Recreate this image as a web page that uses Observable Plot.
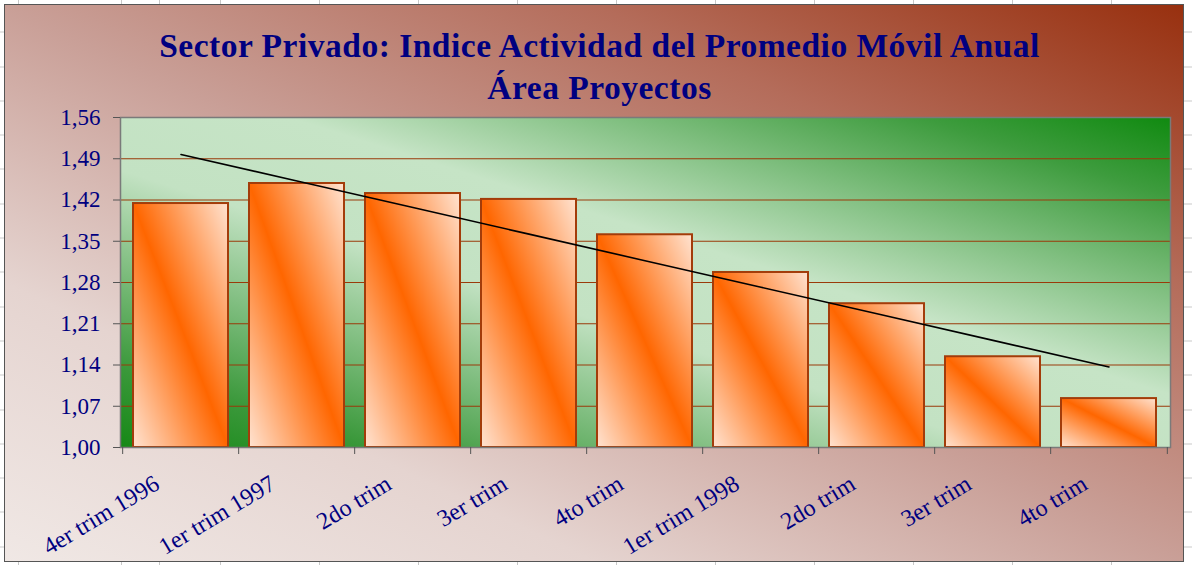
<!DOCTYPE html>
<html><head><meta charset="utf-8">
<script src="https://cdn.jsdelivr.net/npm/d3@7"></script>
<script src="https://cdn.jsdelivr.net/npm/@observablehq/plot@0.6"></script>
<style>
html,body{margin:0;padding:0;}
body{width:1192px;height:565px;overflow:hidden;position:relative;background-color:#fff;
  background-image:
    linear-gradient(to right, transparent 159px, #c8c8c8 159px, #c8c8c8 160px, transparent 160px),
    repeating-linear-gradient(to right, transparent 0, transparent 98px, #c8c8c8 98px, #c8c8c8 99px),
    repeating-linear-gradient(to bottom, transparent 0, transparent 33.3px, #c8c8c8 33.3px, #c8c8c8 34.3px);
  background-position: 0 0, 23px 0, 0 -1.5px;}
#chart{position:absolute;left:4px;top:4px;width:1178px;height:556px;border:1px solid #555;
  background:linear-gradient(to top right,#f0e8e5 0%,#e5d4d0 25%,#c99f97 50%,#b46c5a 75%,#98300f 100%);
  font-family:"Liberation Serif","Times New Roman",serif;}
#title{height:89px;box-sizing:border-box;padding-top:20px;padding-left:11px;text-align:center;color:#000080;
  font-weight:bold;font-size:33.5px;line-height:42px;letter-spacing:0.5px;}
#chart svg{display:block;}
</style></head>
<body>
<div id="chart">
  <div id="title">Sector Privado: Indice Actividad del Promedio Móvil Anual<br>Área Proyectos</div>
</div>
<script>
const categories = ["4er trim 1996","1er trim 1997","2do trim","3er trim","4to trim","1er trim 1998","2do trim","3er trim","4to trim"];
const values = [1.414,1.448,1.431,1.421,1.361,1.297,1.244,1.154,1.083];
const yTicks = [1.00,1.07,1.14,1.21,1.28,1.35,1.42,1.49,1.56];

const data = categories.map((c, i) => ({i, label: c, v: values[i]}));

// least-squares trend line computed from the data
const n = values.length;
const mx = d3.mean(data, d => d.i), my = d3.mean(values);
const slope = d3.sum(data, d => (d.i - mx) * (d.v - my)) / d3.sum(data, d => (d.i - mx) ** 2);
const trend = data.map(d => ({i: d.i, t: my + slope * (d.i - mx)}));

const W = 1178, H = 467, mL = 115, mR = 13, mT = 23, mB = 114;
const step = (W - mL - mR) / n;

const plot = Plot.plot({
  width: W, height: H,
  marginLeft: mL, marginRight: mR, marginTop: mT, marginBottom: mB,
  style: {background: "transparent", fontFamily: "'Liberation Serif','Times New Roman',serif", fontSize: "22px", overflow: "visible"},
  x: {domain: d3.range(n), paddingInner: 0.18, paddingOuter: 0.09, label: null},
  y: {domain: [yTicks[0], yTicks[yTicks.length - 1]], label: null},
  marks: [
    Plot.frame({fill: "url(#plotBg)", stroke: "none"}),
    Plot.ruleY(yTicks.slice(1), {stroke: "#9a3a0a", strokeWidth: 1.2}),
    Plot.barY(data, {x: "i", y1: () => yTicks[0], y2: "v", fill: "url(#barGrad)", stroke: "#a33c0a", strokeWidth: 2}),
    Plot.line(trend, {x: "i", y: "t", stroke: "#000", strokeWidth: 1.6}),
    Plot.frame({stroke: "#7a7a7a", strokeWidth: 1.5}),
    Plot.axisY(yTicks, {tickSize: 7, tickPadding: 13, tickFormat: d => d.toFixed(2).replace(".", ","), stroke: "#555", fill: "#000080", fontSize: 23, letterSpacing: 1, label: null}),
    Plot.ruleX(d3.range(n), {x: d => d, y1: () => yTicks[0], y2: () => yTicks[0], insetBottom: -7, dx: -step / 2, stroke: "#555"}),
    Plot.ruleX([n - 1], {x: d => d, y1: () => yTicks[0], y2: () => yTicks[0], insetBottom: -7, dx: step / 2, stroke: "#555"}),
    Plot.axisX(d3.range(n), {tickSize: 0, tickRotate: -31, tickPadding: 34, dx: -24, tickFormat: i => categories[i], fill: "#000080", fontSize: 24, label: null})
  ]
});

const defs = d3.select(plot).insert("defs", ":first-child");
const bg = defs.append("linearGradient").attr("id", "plotBg").attr("x1", 0).attr("y1", 1).attr("x2", 1).attr("y2", 0);
[[0, "#168816"], [0.12, "#3a983a"], [0.42, "#c3e2c3"], [0.58, "#c6e4c6"], [0.88, "#3e9c3e"], [1, "#108a10"]]
  .forEach(([o, c]) => bg.append("stop").attr("offset", o).attr("stop-color", c));
const bar = defs.append("linearGradient").attr("id", "barGrad").attr("x1", 0).attr("y1", 1).attr("x2", 1).attr("y2", 0);
[[0, "#ffe3d1"], [0.5, "#ff6600"], [1, "#ffe3d1"]]
  .forEach(([o, c]) => bar.append("stop").attr("offset", o).attr("stop-color", c));

document.getElementById("chart").appendChild(plot);
</script>
</body></html>
